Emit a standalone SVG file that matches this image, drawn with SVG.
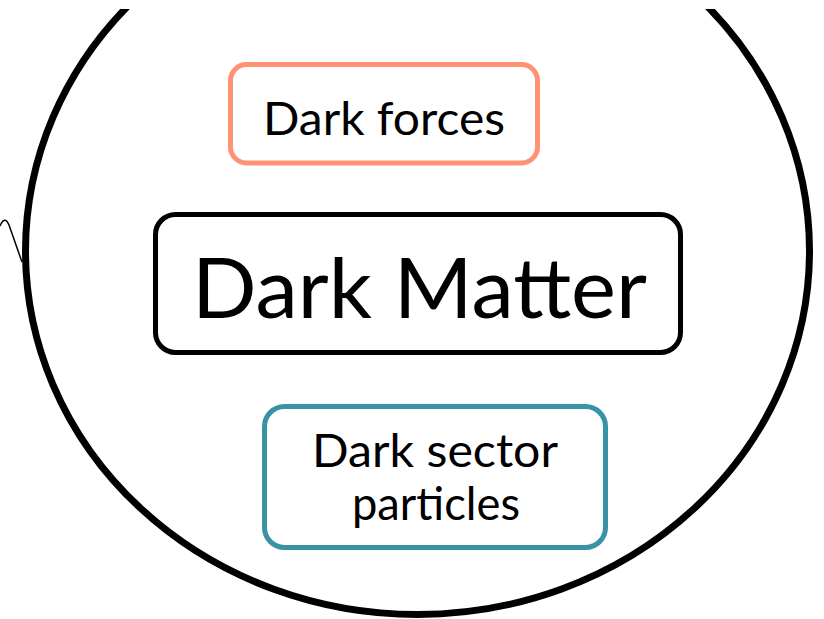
<svg xmlns="http://www.w3.org/2000/svg" width="824" height="619" viewBox="0 0 824 619">
<style>
.box{fill:#ffffff;stroke-width:5}
.lbl{font-family:Lato,"Open Sans","Liberation Sans",sans-serif;fill:#000000;text-anchor:middle}
</style>
<defs>
<clipPath id="topcut"><rect x="0" y="9" width="824" height="610"/></clipPath>
</defs>
<rect x="0" y="0" width="824" height="619" fill="#ffffff"/>
<g id="connectors">
<path d="M0,226 C3,219 6,218 9,225 L22,262" fill="none" stroke="#000000" stroke-width="1.5"/>
</g>
<g id="sector-boundary">
<ellipse cx="417.5" cy="251" rx="392" ry="363.5" fill="none" stroke="#000000" stroke-width="7" clip-path="url(#topcut)"/>
</g>
<g id="dark-forces">
<rect class="box" x="230.5" y="64.5" width="307" height="98.5" rx="16" stroke="#FF9273"/>
<text class="lbl" x="384" y="135" font-size="47" textLength="242" lengthAdjust="spacingAndGlyphs">Dark forces</text>
</g>
<g id="dark-matter">
<rect class="box" x="155.5" y="214.5" width="525" height="138" rx="20" stroke="#000000"/>
<text class="lbl" x="419.5" y="318" font-size="83" textLength="455" lengthAdjust="spacingAndGlyphs">Dark Matter</text>
</g>
<g id="dark-sector-particles">
<rect class="box" x="264.5" y="406.5" width="341" height="141" rx="20" stroke="#3A92A7"/>
<text class="lbl" x="435" y="467" font-size="47" textLength="246" lengthAdjust="spacingAndGlyphs">Dark sector</text>
<text class="lbl" x="436" y="520" font-size="47" textLength="168" lengthAdjust="spacingAndGlyphs">particles</text>
</g>
</svg>
